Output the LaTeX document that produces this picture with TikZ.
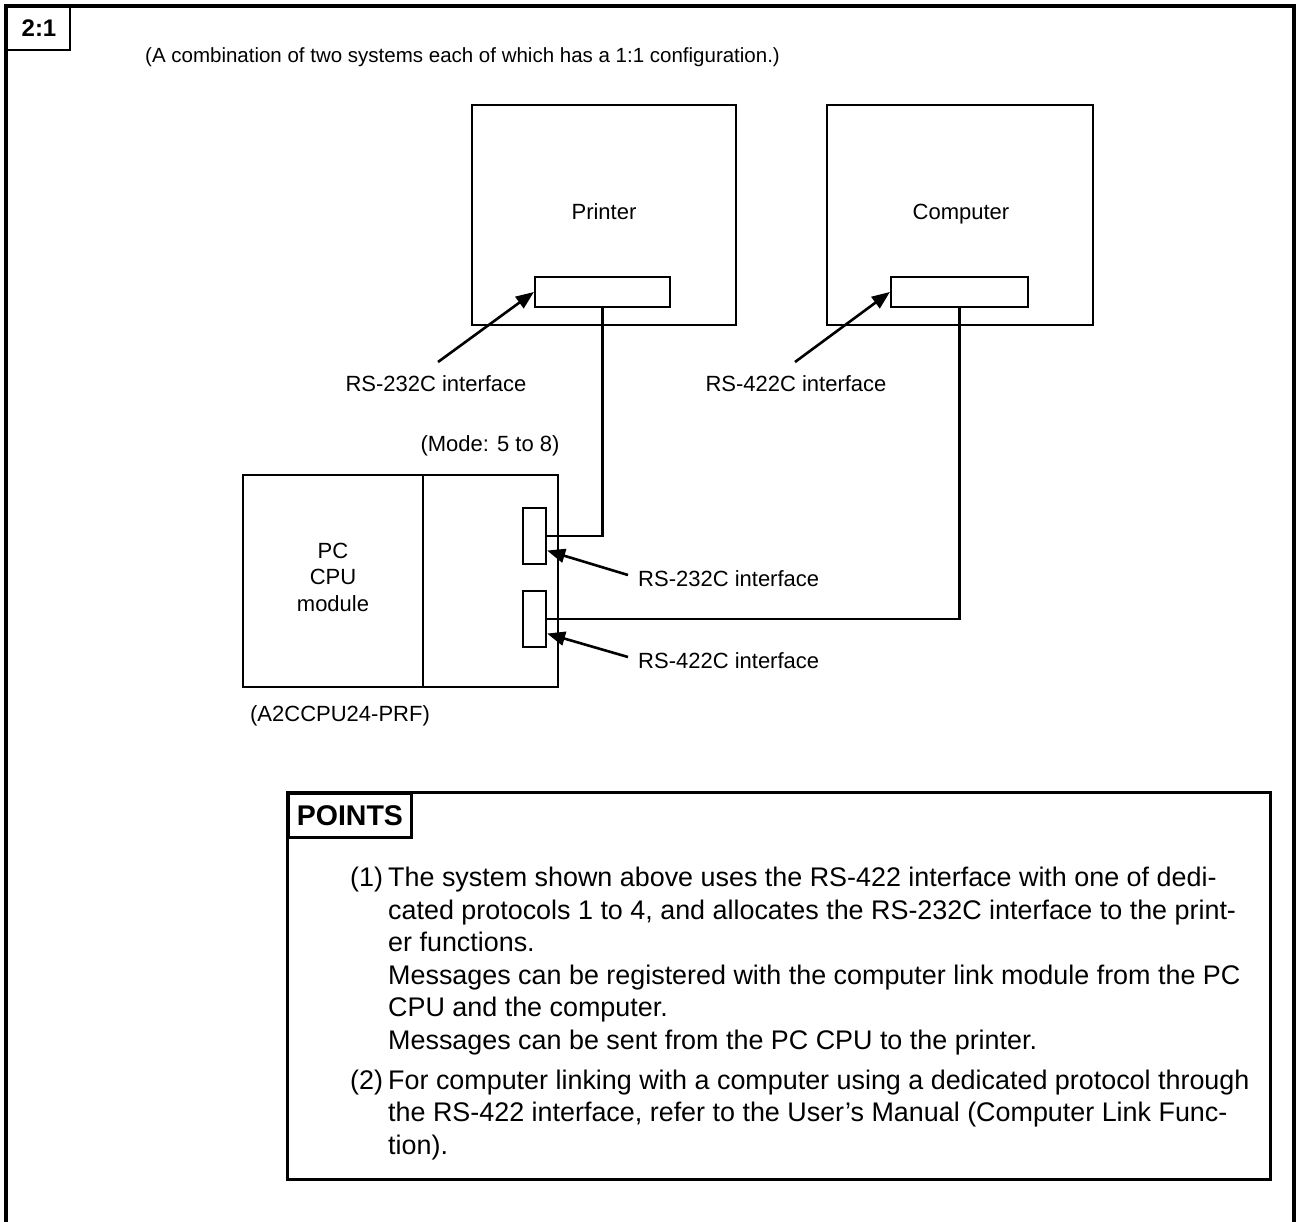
\documentclass[tikz,border=0pt]{standalone}
\usepackage{fontspec}
\setmainfont{Liberation Sans}
\usetikzlibrary{arrows.meta,calc}

\tikzset{
  frameline/.style={line width=3.5pt, line cap=rect},
  unitbox/.style={draw, line width=2.4pt},
  portbox/.style={draw, line width=2.2pt},
  wire/.style={line width=2.3pt},
  pointer/.style={line width=2.6pt, -{Triangle[length=18pt,width=14pt]}},
  lbl/.style={font=\fontsize{22}{26.5}\selectfont, inner sep=0pt},
  titlelbl/.style={font=\fontsize{20.5}{24}\selectfont, inner sep=0pt},
  body/.style={font=\fontsize{26.9}{32.5}\selectfont, inner sep=0pt, align=left},
  tagbox/.style={draw, line width=2.8pt, font=\bfseries\fontsize{28.5}{32}\selectfont}
}

\begin{document}
\begin{tikzpicture}[x=1pt, y=-1pt]
  \useasboundingbox (0,0) rectangle (1297,1221);

  % outer frame, open at the bottom
  \draw[frameline] (6,1221) -- (6,6) -- (1294,6) -- (1294,1221);

  % figure tag
  \draw[line width=2.8pt] (6,50) -- (70,50) -- (70,6);
  \node[font=\bfseries\fontsize{24}{28}\selectfont, inner sep=0pt] (tag) at (39,28) {2:1};

  \node[titlelbl, anchor=west] (title) at (145,57)
    {(A combination of two systems each of which has a 1:1 configuration.)};

  % printer and computer
  \draw[unitbox] (472,105) rectangle (736,325);
  \node[lbl, anchor=base] (printer) at (604,219) {Printer};
  \node[portbox, minimum width=135pt, minimum height=30pt, inner sep=0pt] (pport) at (602.5,292) {};

  \draw[unitbox] (827,105) rectangle (1093,325);
  \node[lbl, anchor=base] (computer) at (961,219) {Computer};
  \node[portbox, minimum width=137pt, minimum height=30pt, inner sep=0pt] (cport) at (959.5,292) {};

  \node[lbl, anchor=base] (l232a) at (436,391) {RS-232C interface};
  \node[lbl, anchor=base] (l422a) at (796,391) {RS-422C interface};
  \coordinate (t232a) at (438,362);
  \coordinate (t422a) at (795,362);
  \draw[pointer] (t232a) -- (pport.west);
  \draw[pointer] (t422a) -- (cport.west);

  % PC CPU module with the computer link unit
  \node[lbl, anchor=base] (mode) at (490,451) {(Mode: 5 to 8)};
  \draw[unitbox] (243,475) rectangle (558,687);
  \draw[unitbox] (423,475) -- (423,687);
  \node[lbl, align=center] (cpu) at (333,577) {PC\\CPU\\module};
  \node[lbl, anchor=base] (model) at (340,721) {(A2CCPU24-PRF)};

  \node[portbox, minimum width=23pt, minimum height=56pt, inner sep=0pt] (uport) at (534.5,536) {};
  \node[portbox, minimum width=23pt, minimum height=56pt, inner sep=0pt] (lport) at (534.5,619) {};

  % cables
  \draw[wire] (pport.south) |- (uport.east);
  \draw[wire] (cport.south) |- (lport.east);

  \node[lbl, anchor=base west] (l232b) at (638,586) {RS-232C interface};
  \node[lbl, anchor=base west] (l422b) at (638,668) {RS-422C interface};
  \coordinate (t232b) at (628,575);
  \coordinate (t422b) at (628,657);
  \draw[pointer] (t232b) -- ($(uport.south east)!0.25!(uport.north east)$);
  \draw[pointer] (t422b) -- ($(lport.south east)!0.25!(lport.north east)$);

  % POINTS box
  \draw[line width=3pt] (287,792) rectangle (1270,1179);
  \node[tagbox, anchor=north west, minimum width=123pt, minimum height=44pt, inner sep=0pt] (points) at (287,792) {POINTS};

  % notes; a multi-line node sits on the baseline of its last line
  \node[body, anchor=base west] (n1) at (350,886.5) {(1)};
  \node[body, anchor=base west] (p1) at (388,1049)
    {The system shown above uses the RS-422 interface with one of dedi-\\
     cated protocols 1 to 4, and allocates the RS-232C interface to the print-\\
     er functions.\\
     Messages can be registered with the computer link module from the PC\\
     CPU and the computer.\\
     Messages can be sent from the PC CPU to the printer.};
  \node[body, anchor=base west] (n2) at (350,1089) {(2)};
  \node[body, anchor=base west] (p2) at (388,1154)
    {For computer linking with a computer using a dedicated protocol through\\
     the RS-422 interface, refer to the User's Manual (Computer Link Func-\\
     tion).};
\end{tikzpicture}
\end{document}
